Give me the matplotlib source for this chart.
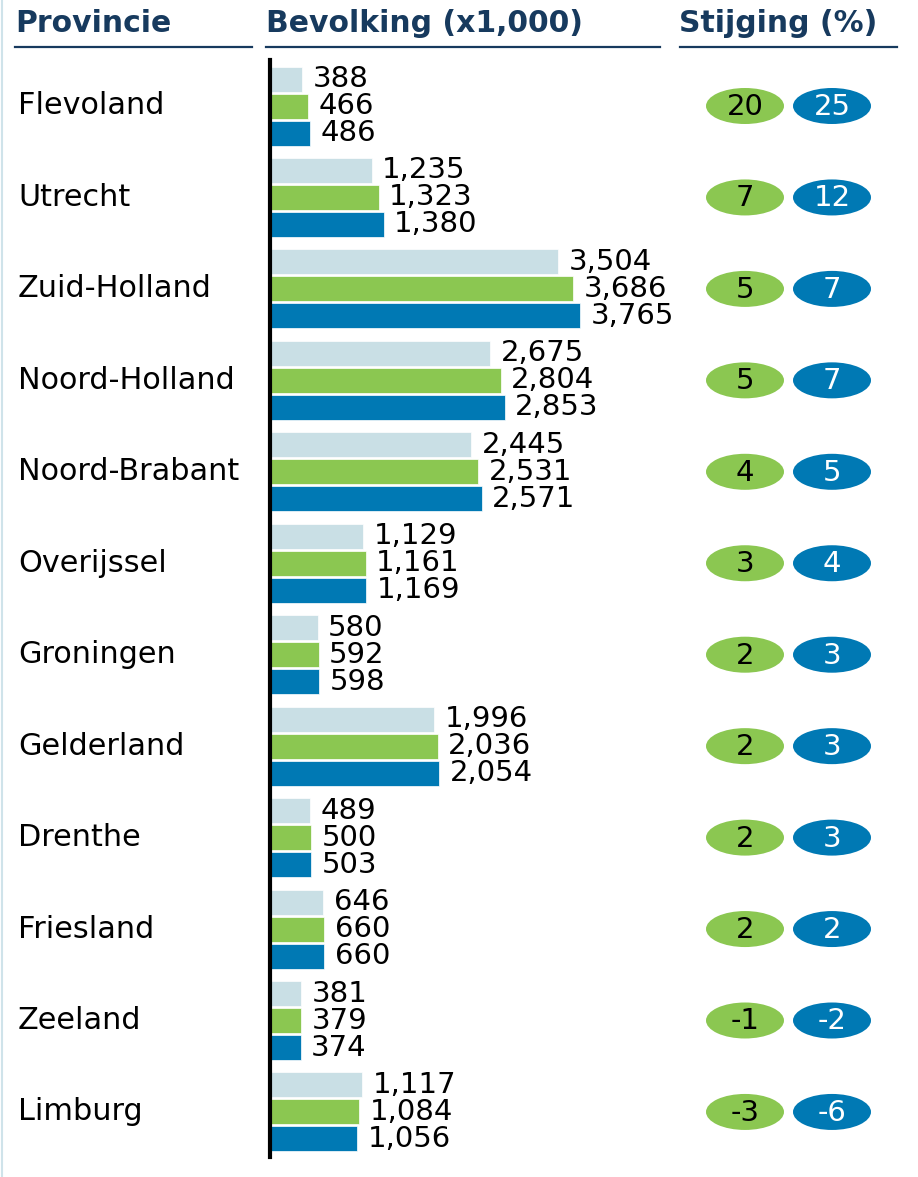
import matplotlib
matplotlib.use("Agg")
import matplotlib.pyplot as plt
from matplotlib.patches import Ellipse
from matplotlib.transforms import blended_transform_factory
from matplotlib.lines import Line2D

plt.rcParams["font.family"] = ["DejaVu Sans"]

provinces = ["Flevoland", "Utrecht", "Zuid-Holland", "Noord-Holland", "Noord-Brabant",
             "Overijssel", "Groningen", "Gelderland", "Drenthe", "Friesland", "Zeeland", "Limburg"]
pop_a = [388, 1235, 3504, 2675, 2445, 1129, 580, 1996, 489, 646, 381, 1117]
pop_b = [466, 1323, 3686, 2804, 2531, 1161, 592, 2036, 500, 660, 379, 1084]
pop_c = [486, 1380, 3765, 2853, 2571, 1169, 598, 2054, 503, 660, 374, 1056]
rise_b = [20, 7, 5, 5, 4, 3, 2, 2, 2, 2, -1, -3]
rise_c = [25, 12, 7, 7, 5, 4, 3, 3, 3, 2, -2, -6]
headers = ["Provincie", "Bevolking (x1,000)", "Stijging (%)"]

C_LIGHT = "#c9dfe5"
C_GREEN = "#8bc751"
C_BLUE = "#0079b4"
C_NAVY = "#173a5e"

W, H = 918, 1177
fig = plt.figure(figsize=(W / 100, H / 100), dpi=100)

def px_rect(x0, y0, x1, y1):
    return [x0 / W, 1 - y1 / H, (x1 - x0) / W, (y1 - y0) / H]

# bars axes: x=0 at 270 px, 0.0823 px per unit
x0px, x1px = 270, 700
y_top, y_bot = 60, 1157
row_pitch = 91.45
ax = fig.add_axes(px_rect(x0px, y_top, x1px, y_bot))
ax.set_xlim(0, (x1px - x0px) / 0.0823)
ax.set_ylim((y_bot - 106) / row_pitch, -(106 - y_top) / row_pitch)
ax.set_facecolor("none")
for s in ["top", "right", "bottom"]:
    ax.spines[s].set_visible(False)
ax.spines["left"].set_linewidth(3)
ax.spines["left"].set_color("black")
ax.set_xticks([])
ax.set_yticks([])

off = 27 / row_pitch
bh = 25 / row_pitch
ys = list(range(len(provinces)))
for vals, color, d in [(pop_a, C_LIGHT, -off), (pop_b, C_GREEN, 0), (pop_c, C_BLUE, off)]:
    yy = [y + d for y in ys]
    ax.barh(yy, vals, height=bh, color=color, edgecolor="white", linewidth=0.5, zorder=2)
    for y, v in zip(yy, vals):
        ax.annotate(f"{v:,}", xy=(v, y), xytext=(7.5, 0), textcoords="offset points",
                    ha="left", va="center", fontsize=21, color="black", clip_on=False)

# province names
tr = blended_transform_factory(fig.transFigure, ax.transData)
for y, name in zip(ys, provinces):
    ax.text(18 / W, y, name, transform=tr, ha="left", va="center", fontsize=21.8,
            color="black", clip_on=False)

# pills axes
ax2 = fig.add_axes(px_rect(680, y_top, 900, y_bot), sharey=ax)
ax2.set_xlim(680, 900)
ax2.axis("off")
eh = 36 / row_pitch
for y, g, b in zip(ys, rise_b, rise_c):
    ax2.add_patch(Ellipse((745, y), 78, eh, facecolor=C_GREEN, edgecolor="none"))
    ax2.add_patch(Ellipse((832, y), 78, eh, facecolor=C_BLUE, edgecolor="none"))
    ax2.text(745, y + 0.01, str(g), ha="center", va="center", fontsize=21, color="black")
    ax2.text(832, y + 0.01, str(b), ha="center", va="center", fontsize=21, color="white")

# headers and underlines
hx = [15, 266, 679]
lines = [(15, 252), (266, 660), (680, 897)]
for x, t, (la, lb) in zip(hx, headers, lines):
    fig.text(x / W, 1 - 23 / H, t, ha="left", va="center", fontsize=21.5,
             fontweight="bold", color=C_NAVY)
    fig.add_artist(Line2D([la / W, lb / W], [1 - 47 / H, 1 - 47 / H], color=C_NAVY, lw=1.6))

# left border
fig.add_artist(Line2D([1.5 / W, 1.5 / W], [0, 1], color="#cfe3ea", lw=1.5))

fig.savefig("out.png", dpi=100, facecolor="white")
